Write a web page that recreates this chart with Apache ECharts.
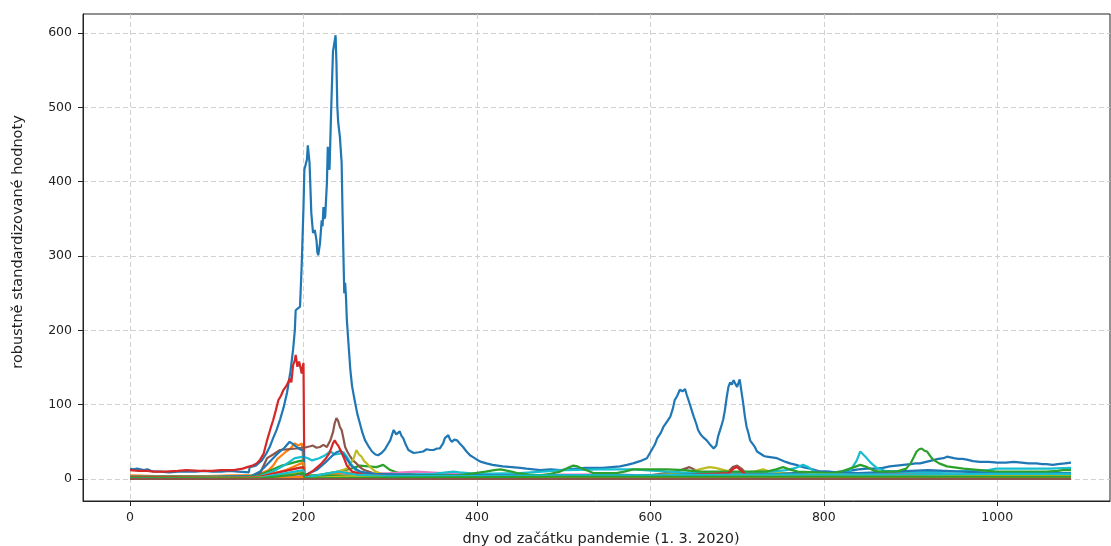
<!DOCTYPE html>
<html>
<head>
<meta charset="utf-8">
<script src="https://cdn.jsdelivr.net/npm/echarts@6/dist/echarts.min.js"></script>
<style>
  html, body { margin: 0; padding: 0; background: #fff; }
  #chart { width: 1111px; height: 546px; }
</style>
</head>
<body>
<div id="chart"></div>
<script>
// Axis ticks
const xTicks = [0, 200, 400, 600, 800, 1000];
const yTicks = [0, 100, 200, 300, 400, 500, 600];
const xTitle = 'dny od začátku pandemie (1. 3. 2020)';
const yTitle = 'robustně standardizované hodnoty';

// Series: [day, value] pairs
const s01 = [[0,14],[4,13],[8,14],[12,13],[16,12],[20,13],[24,11],[28,10],[35,10],[45,9],[55,10],[65,10],[75,10],[85,11],[95,10],[105,10],[115,11],[125,10],[137,9],[138,16],[145,18],[152,25],[157,34],[161,43],[165,55],[169,66],[173,80],[177,96],[181,116],[185,145],[188,174],[190,200],[191,227],[193,229],[196,232],[198,290],[200,366],[201,416],[203,418],[204,430],[205,449],[207,425],[209,358],[211,331],[213,335],[215,321],[216,305],[217,301],[219,317],[221,348],[222,340],[223,366],[224,350],[225,353],[227,398],[228,447],[229,420],[230,416],[232,500],[234,575],[235,573],[237,597],[238,560],[239,501],[240,480],[242,460],[244,425],[245,360],[246,304],[247,250],[248,264],[249,245],[250,214],[252,180],[254,147],[256,125],[259,106],[262,88],[265,75],[268,62],[271,52],[275,44],[279,37],[283,33],[286,32],[290,35],[294,40],[297,46],[300,52],[304,66],[307,60],[309,61],[311,64],[313,58],[315,55],[318,46],[321,39],[324,37],[327,35],[333,36],[338,37],[342,40],[346,39],[350,39],[354,41],[357,41],[361,48],[363,55],[365,57],[367,59],[369,53],[371,50],[374,53],[377,52],[380,48],[384,43],[388,37],[392,32],[396,29],[400,26],[405,23],[411,21],[418,19],[424,18],[430,17],[440,16],[450,15],[457,14],[465,13],[473,12],[485,13],[496,12],[505,13],[515,14],[525,15],[534,15],[545,15],[555,16],[565,17],[573,19],[580,21],[588,24],[596,28],[601,38],[605,46],[608,55],[612,62],[615,70],[619,77],[623,84],[626,95],[628,106],[631,112],[634,120],[637,118],[640,121],[642,113],[644,106],[647,95],[650,84],[653,74],[655,66],[658,60],[661,56],[665,52],[669,46],[673,41],[676,45],[678,57],[681,68],[684,80],[686,93],[688,110],[690,124],[692,130],[694,127],[696,133],[698,128],[700,124],[701,122],[703,134],[705,118],[707,102],[709,84],[711,70],[713,62],[715,52],[717,52],[720,44],[723,37],[727,34],[731,31],[734,30],[740,29],[746,28],[752,25],[756,23],[761,21],[768,19],[776,16],[784,14],[790,12],[796,10],[805,10],[812,9],[819,10],[828,11],[840,13],[850,14],[860,14],[868,15],[876,17],[884,18],[892,19],[900,20],[906,21],[911,21],[918,23],[925,25],[932,27],[938,28],[942,30],[946,29],[950,28],[955,27],[960,27],[965,26],[972,24],[980,23],[990,23],[1000,22],[1010,22],[1019,23],[1028,22],[1036,21],[1045,21],[1052,20],[1057,20],[1064,19],[1070,20],[1078,21],[1085,22]];
const s02 = [[0,5],[30,4],[60,4],[90,4],[120,5],[140,5],[150,7],[160,12],[165,18],[170,27],[175,32],[180,37],[185,41],[190,48],[194,45],[196,47],[198,48],[199,40],[200,3],[210,3],[230,4],[250,4],[280,3],[320,3],[400,2],[500,2],[600,3],[700,3],[800,3],[900,4],[1000,3],[1085,3]];
const s03 = [[0,3],[50,3],[100,3],[140,4],[155,8],[165,13],[175,18],[185,21],[195,24],[200,25],[201,3],[220,6],[240,10],[255,14],[265,18],[275,17],[284,16],[292,19],[300,12],[310,8],[330,6],[370,5],[420,5],[500,5],[600,5],[700,4],[800,4],[900,5],[1000,4],[1085,4]];
const s04 = [[0,12],[10,11],[20,11],[27,10],[40,10],[55,11],[65,12],[80,11],[95,11],[104,12],[120,12],[130,14],[135,16],[141,18],[146,21],[150,26],[154,34],[158,52],[162,68],[165,79],[168,92],[171,106],[174,112],[177,120],[180,125],[182,129],[184,135],[186,130],[188,153],[190,160],[191,167],[193,151],[195,158],[196,156],[198,142],[199,150],[200,156],[201,2],[220,2],[260,2],[300,2],[400,1],[500,1],[600,1],[700,1],[800,1],[900,1],[1000,1],[1085,1]];
const s05 = [[0,1],[100,1],[150,2],[170,5],[185,8],[195,10],[200,11],[201,1],[250,3],[300,4],[350,5],[400,4],[450,4],[500,5],[550,6],[600,5],[650,6],[700,5],[750,6],[800,5],[850,6],[900,8],[950,6],[1000,4],[1085,3]];
const s06 = [[0,2],[100,2],[140,3],[150,8],[158,28],[165,33],[173,39],[182,40],[192,41],[198,42],[204,43],[208,44],[211,45],[215,42],[219,43],[223,46],[227,43],[231,52],[234,63],[236,75],[238,82],[240,78],[242,70],[244,66],[246,55],[248,43],[251,36],[254,30],[257,25],[261,21],[265,16],[270,12],[280,8],[300,6],[350,5],[400,4],[500,4],[600,5],[630,10],[640,14],[645,16],[650,13],[660,8],[690,10],[695,16],[700,18],[705,14],[710,8],[750,5],[800,4],[900,4],[1000,3],[1085,3]];
const s07 = [[0,1],[100,1],[150,2],[180,6],[200,9],[201,1],[230,4],[260,6],[300,8],[330,10],[360,8],[400,6],[450,5],[500,6],[550,6],[600,5],[650,6],[700,6],[750,7],[790,10],[800,9],[850,6],[900,5],[1000,4],[1085,4]];
const s08 = [[0,1],[150,2],[190,5],[200,6],[201,1],[300,2],[500,2],[700,2],[900,2],[1085,2]];
const s09 = [[0,2],[100,2],[150,3],[175,10],[190,14],[200,16],[201,3],[220,5],[240,10],[250,14],[255,22],[258,28],[261,39],[264,33],[267,30],[270,24],[273,21],[277,16],[283,10],[290,7],[320,5],[400,4],[500,4],[600,5],[640,8],[660,14],[668,16],[675,15],[685,12],[700,8],[720,10],[730,13],[740,9],[800,5],[900,4],[1000,4],[1085,4]];
const s10 = [[0,3],[100,3],[150,4],[165,10],[180,20],[190,28],[200,30],[205,28],[210,25],[218,28],[225,32],[231,37],[236,33],[242,34],[246,36],[250,30],[255,20],[260,12],[270,8],[290,6],[320,6],[350,7],[365,9],[373,10],[380,9],[400,7],[450,8],[500,12],[540,13],[580,13],[620,10],[650,8],[700,9],[740,10],[757,12],[768,15],[776,19],[782,16],[792,8],[810,6],[830,10],[838,25],[842,37],[848,30],[854,22],[861,15],[870,11],[900,9],[950,10],[990,12],[999,14],[1030,14],[1060,14],[1085,15]];
const s11 = [[0,3],[100,3],[140,4],[150,10],[160,22],[170,34],[178,42],[184,50],[188,47],[192,43],[196,40],[200,38],[201,5],[215,12],[225,22],[232,30],[238,36],[243,38],[248,30],[255,18],[265,10],[280,7],[350,5],[450,5],[550,5],[650,6],[750,7],[800,10],[840,8],[880,10],[920,12],[960,10],[1000,8],[1085,8]];
const s12 = [[0,2],[150,3],[180,12],[195,20],[200,22],[201,2],[230,6],[250,9],[270,5],[300,3],[500,3],[650,5],[700,6],[850,4],[900,6],[950,3],[1085,2]];
const s13 = [[0,2],[100,2],[200,5],[300,4],[380,5],[410,10],[420,12],[427,13],[440,10],[446,8],[460,6],[473,5],[485,7],[496,10],[505,15],[511,18],[516,17],[521,14],[528,11],[534,8],[550,8],[561,8],[570,10],[580,13],[600,13],[619,13],[640,12],[657,10],[680,10],[695,10],[715,10],[734,10],[745,13],[753,16],[760,13],[770,10],[790,9],[807,8],[820,10],[835,16],[842,19],[850,16],[858,11],[865,10],[884,10],[895,14],[900,21],[904,30],[907,37],[910,40],[913,41],[916,38],[919,37],[922,32],[926,26],[933,21],[942,17],[961,14],[980,12],[999,10],[1030,10],[1057,10],[1070,11],[1076,12],[1085,12]];
const s14 = [[0,2],[100,2],[150,3],[175,10],[195,15],[200,16],[201,3],[212,12],[220,20],[226,28],[230,35],[234,48],[236,52],[238,48],[240,45],[243,38],[246,30],[250,18],[256,10],[270,6],[300,4],[400,3],[600,3],[690,8],[696,14],[700,16],[704,12],[710,6],[800,3],[900,3],[1085,2]];
const s15 = [[0,0],[150,1],[190,3],[200,4],[201,0],[300,1],[500,2],[700,2],[850,3],[900,5],[920,6],[950,4],[1085,2]];
const s16 = [[0,0],[150,1],[195,4],[201,0],[250,2],[350,3],[500,3],[700,3],[900,3],[1085,2]];
const s17 = [[0,0],[100,0],[190,2],[201,0],[400,1],[700,1],[1085,1]];
const s18 = [[0,1],[150,2],[190,8],[200,10],[201,1],[260,4],[300,3],[400,3],[500,4],[600,4],[700,5],[800,6],[900,5],[1000,5],[1085,5]];
const s19 = [[0,1],[150,2],[190,10],[200,12],[201,2],[240,10],[260,6],[300,4],[400,4],[500,5],[600,5],[700,6],[800,6],[900,6],[1000,7],[1085,7]];
const s20 = [[0,0],[180,2],[200,3],[201,0],[400,1],[600,1],[800,2],[900,3],[1085,1]];
const s21 = [[0,1],[150,1],[190,6],[200,8],[201,1],[300,2],[500,3],[700,3],[900,3],[1085,3]];
const s22 = [[0,0],[1085,0]];

const seriesData = [s01, s02, s03, s04, s05, s06, s07, s08, s09, s10, s11, s12, s13, s14, s15, s16, s17, s18, s19, s20, s21, s22];
const seriesColors = ['#1f77b4', '#ff7f0e', '#2ca02c', '#d62728', '#9467bd', '#8c564b', '#e377c2', '#7f7f7f', '#bcbd22', '#17becf',
  '#1f77b4', '#ff7f0e', '#2ca02c', '#d62728', '#9467bd', '#e377c2', '#7f7f7f', '#bcbd22', '#17becf', '#ff7f0e', '#2ca02c', '#8c564b'];

const font = 'DejaVu Sans';
const textColor = '#222';
const chart = echarts.init(document.getElementById('chart'), null, { renderer: 'canvas' });

chart.setOption({
  animation: false,
  backgroundColor: '#fff',
  grid: { left: 83, right: 1, top: 14, bottom: 45, show: true, borderColor: '#222', borderWidth: 1, backgroundColor: 'transparent' },
  xAxis: {
    type: 'value',
    min: -54.25,
    max: 1130,
    axisLine: { show: true, onZero: false, lineStyle: { color: '#222', width: 1 } },
    axisTick: { show: true, length: 5, customValues: xTicks, lineStyle: { color: '#222' } },
    axisLabel: { customValues: xTicks, margin: 10, fontFamily: font, fontSize: 12.5, color: textColor, formatter: v => String(v) },
    splitLine: { show: true, lineStyle: { color: '#d0d0d0', type: [5, 3], width: 1 } }
  },
  yAxis: {
    type: 'value',
    min: -29.6,
    max: 625.6,
    axisLine: { show: true, onZero: false, lineStyle: { color: '#222', width: 1 } },
    axisTick: { show: true, length: 5, customValues: yTicks, lineStyle: { color: '#222' } },
    axisLabel: { customValues: yTicks, margin: 11, fontFamily: font, fontSize: 12.5, color: textColor, formatter: v => String(v) },
    splitLine: { show: true, lineStyle: { color: '#d0d0d0', type: [5, 3], width: 1 } }
  },
  graphic: [
    {
      type: 'text', x: 601, y: 539, silent: true,
      style: { text: xTitle, fontFamily: font, fontSize: 14.5, fill: textColor, textAlign: 'center', textVerticalAlign: 'middle' }
    },
    {
      type: 'text', x: 18, y: 242, rotation: Math.PI / 2, silent: true,
      style: { text: yTitle, fontFamily: font, fontSize: 14.5, fill: textColor, textAlign: 'center', textVerticalAlign: 'middle' }
    }
  ],
  series: seriesData.map((d, i) => ({
    type: 'line',
    data: d,
    showSymbol: false,
    symbol: 'none',
    silent: true,
    lineStyle: { color: seriesColors[i], width: 2.2 },
    itemStyle: { color: seriesColors[i] },
    z: 2
  }))
});
</script>
</body>
</html>
